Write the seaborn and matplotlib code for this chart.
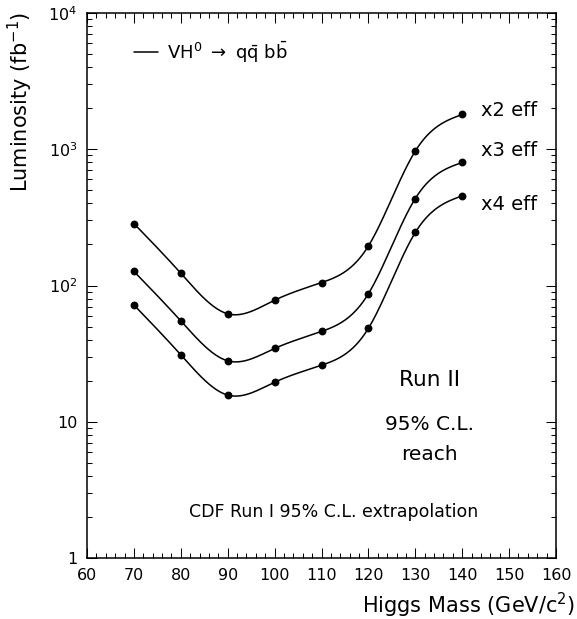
import numpy as np
import pandas as pd
import matplotlib
matplotlib.use("Agg")
import matplotlib.pyplot as plt
import seaborn as sns
from matplotlib.ticker import FixedLocator, FuncFormatter, LogLocator, NullFormatter, MultipleLocator

# ---- data ----
mass = [70, 80, 90, 100, 110, 120, 130, 140]
lumi_x2 = [285, 123, 62, 78, 105, 195, 970, 1800]
lumi_x3 = [127, 55, 28, 34.5, 46, 87, 435, 800]
lumi_x4 = [72, 31, 15.7, 19.5, 26, 48.5, 245, 455]
series_labels = ["x2 eff", "x3 eff", "x4 eff"]
ytick_vals = [1, 10, 100, 1000, 10000]
ytick_labels = ["1", "10", r"$10^2$", r"$10^3$", r"$10^4$"]

sns.set_style("ticks")
plt.rcParams["font.family"] = ["DejaVu Sans"]
plt.rcParams["mathtext.fontset"] = "dejavusans"
plt.rcParams["text.color"] = "black"
plt.rcParams["xtick.color"] = "black"
plt.rcParams["ytick.color"] = "black"


def smooth_curve(x, y, n=40):
    """Natural cubic spline in log space, for drawing a smooth line through the points."""
    x = np.asarray(x, float)
    ly = np.log10(np.asarray(y, float))
    m = len(x)
    h = np.diff(x)
    A = np.zeros((m, m))
    b = np.zeros(m)
    A[0, 0] = A[-1, -1] = 1
    for i in range(1, m - 1):
        A[i, i - 1] = h[i - 1]
        A[i, i] = 2 * (h[i - 1] + h[i])
        A[i, i + 1] = h[i]
        b[i] = 3 * ((ly[i + 1] - ly[i]) / h[i] - (ly[i] - ly[i - 1]) / h[i - 1])
    c = np.linalg.solve(A, b)
    xs, ys = [], []
    for i in range(m - 1):
        t = np.linspace(0, h[i], n, endpoint=(i == m - 2))
        bb = (ly[i + 1] - ly[i]) / h[i] - h[i] * (2 * c[i] + c[i + 1]) / 3
        d = (c[i + 1] - c[i]) / (3 * h[i])
        xs.append(x[i] + t)
        ys.append(ly[i] + bb * t + c[i] * t ** 2 + d * t ** 3)
    return np.concatenate(xs), 10 ** np.concatenate(ys)


fig = plt.figure(figsize=(5.77, 6.19), dpi=100)
ax = fig.add_axes([87 / 577, 1 - 558 / 619, (556 - 87) / 577, (558 - 13) / 619])

for lab, vals in zip(series_labels, [lumi_x2, lumi_x3, lumi_x4]):
    sx, sy = smooth_curve(mass, vals)
    sns.lineplot(x=sx, y=sy, ax=ax, color="black", linewidth=1.1, sort=False,
                 estimator=None)
    df = pd.DataFrame({"mass": mass, "lumi": vals})
    sns.scatterplot(data=df, x="mass", y="lumi", ax=ax, color="black", s=32,
                    edgecolor="black", linewidth=0, zorder=5)

ax.set_yscale("log")
ax.set_xlim(60, 160)
ax.set_ylim(1, 10000)

ax.xaxis.set_major_locator(MultipleLocator(10))
ax.xaxis.set_minor_locator(MultipleLocator(2))
ax.yaxis.set_major_locator(FixedLocator(ytick_vals))
ax.yaxis.set_major_formatter(FuncFormatter(
    lambda v, p: ytick_labels[ytick_vals.index(int(round(v)))] if int(round(v)) in ytick_vals else ""))
ax.yaxis.set_minor_locator(LogLocator(base=10, subs=np.arange(2, 10)))
ax.yaxis.set_minor_formatter(NullFormatter())

ax.tick_params(which="both", direction="in", top=True, right=True, width=0.75, colors="black",
               labelsize=11.5)
ax.tick_params(which="major", length=7.2, pad=7)
ax.tick_params(which="minor", length=3.6)
for sp in ax.spines.values():
    sp.set_linewidth(1.1)
    sp.set_color("black")

ax.set_xlabel("")
ax.set_ylabel("")
fig.text(575 / 577, 1 - 605 / 619, r"Higgs Mass (GeV/c$^2$)", ha="right", va="center", fontsize=15)
fig.text(20 / 577, 1 - 12 / 619, r"Luminosity (fb$^{-1}$)", ha="center", va="top",
         rotation=90, fontsize=15)

# annotations
ax.plot([0.1, 0.152], [0.928, 0.928], transform=ax.transAxes, color="black", lw=1.1)
ax.text(0.17, 0.928, r"VH$^0$ $\rightarrow$ q$\bar{\rm q}$ b$\bar{\rm b}$",
        transform=ax.transAxes, ha="left", va="center", fontsize=13)
label_y_px = [110, 150, 205]
for lab, ypx in zip(series_labels, label_y_px):
    ax.text(0.84, 1 - (ypx - 13) / 545, lab, transform=ax.transAxes, ha="left", va="center", fontsize=14)
ax.text(0.73, 1 - (380 - 13) / 545, "Run II", transform=ax.transAxes, ha="center", va="center", fontsize=15.5)
ax.text(0.73, 1 - (425 - 13) / 545, "95% C.L.", transform=ax.transAxes, ha="center", va="center", fontsize=14.5)
ax.text(0.73, 1 - (455 - 13) / 545, "reach", transform=ax.transAxes, ha="center", va="center", fontsize=14.5)
ax.text(0.525, 1 - (512 - 13) / 545, "CDF Run I 95% C.L. extrapolation", transform=ax.transAxes,
        ha="center", va="center", fontsize=12.5)

fig.savefig("out.png", dpi=100)
